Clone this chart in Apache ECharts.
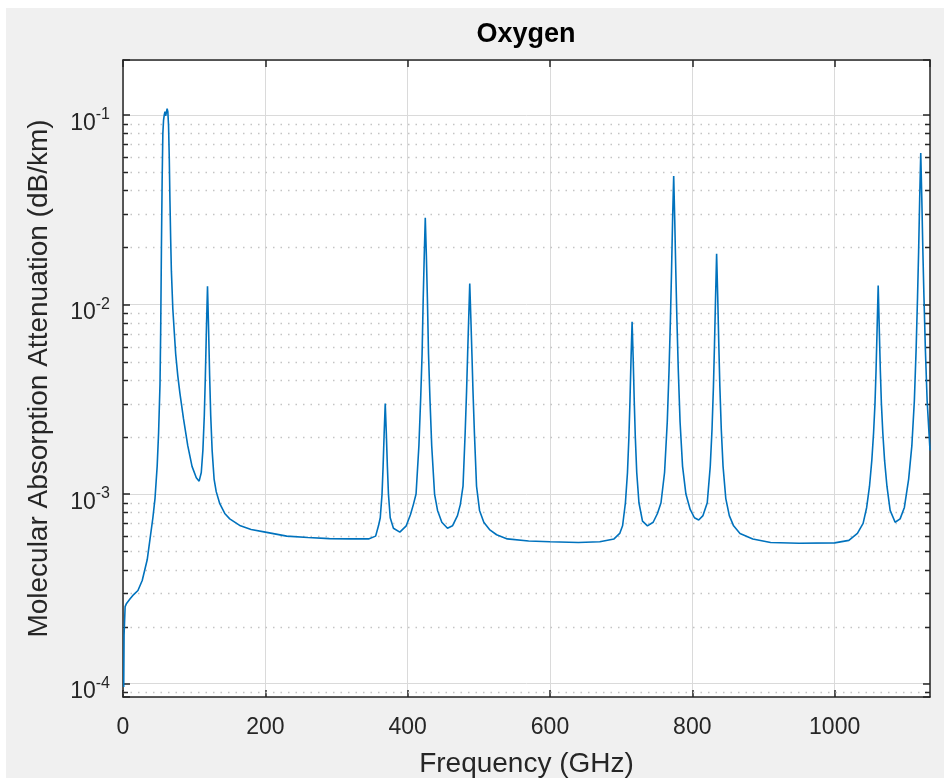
<!DOCTYPE html>
<html>
<head>
<meta charset="utf-8">
<title>Oxygen</title>
<script src="https://cdn.jsdelivr.net/npm/echarts@6/dist/echarts.min.js"></script>
<style>
  html, body { margin: 0; padding: 0; background: #fff; }
  #chart { position: absolute; left: 6px; top: 8px; width: 938px; height: 770px; }
</style>
</head>
<body>
<div id="chart"></div>
<script>
// frequency (GHz) and O2 attenuation (dB/km); one row per line group
const freqGHz = [
  1, 1.5, 3, 5, 10, 15, 21, 27, 34, 38, 42, 45, 48, 50, 52, 53, 54, 55, 56, 57, 58, 59, 60, 61, 62, 63, 64, 65, 66, 67, 68, 70, 72, 74, 77, 80, 85, 91, 97, 103, 107,
  110, 112.25, 114.25, 115.75, 117.25, 118.75, 120.25, 121.75, 123.25, 125.25, 128, 131, 136, 143, 150, 165, 180, 200, 230, 260, 290, 320, 345,
  355, 359, 361.5, 364, 365.5, 367, 368.5, 370, 371.5, 373, 375.5, 380, 389,
  398, 404, 408, 411.8, 415.8, 418.3, 420.3, 421.8, 423.3, 424.76, 426.3, 427.8, 429.3, 431.3, 433.8, 437.8, 442, 448, 456,
  463, 470, 474, 477.8, 480.8, 482.8, 484.3, 485.8, 487.25, 488.8, 490.3, 491.8, 493.8, 496.8, 501, 507, 515, 525, 540, 570, 600, 640, 670, 690,
  698, 702, 706, 708.9, 710.9, 712.4, 713.9, 715.39, 716.9, 718.4, 719.9, 721.9, 725, 730, 737, 745, 751,
  756, 761, 764.8, 767.3, 769.3, 770.8, 772.3, 773.84, 775.3, 776.8, 778.3, 780.3, 782.8, 786.3, 791, 797, 803, 809, 815,
  821, 825.2, 827.7, 829.7, 831.2, 832.7, 834.15, 835.7, 837.2, 838.7, 840.7, 843.2, 847, 852, 858, 867, 885, 910, 950, 1000, 1020, 1032,
  1040, 1045, 1049, 1052.2, 1054.7, 1056.7, 1058.2, 1059.7, 1061.2, 1062.7, 1064.2, 1065.7, 1067.7, 1070.2, 1073.5, 1078, 1085, 1092, 1098,
  1104, 1108.5, 1112, 1114.5, 1116.5, 1118, 1119.5, 1121, 1122.5, 1124, 1125.5, 1127.5, 1130, 1134
];
const attenDbKm = [
  9.6e-5, 1.8e-4, 2.55e-4, 2.65e-4, 2.8e-4, 2.95e-4, 3.1e-4, 3.5e-4, 4.5e-4, 5.8e-4, 7.5e-4, 9.5e-4, 1.4e-3, 2.1e-3, 3.8e-3, 7.5e-3, 0.02, 0.045, 0.08, 0.094, 0.1, 0.104, 0.099, 0.097, 0.108, 0.104, 0.088, 0.06, 0.035, 0.022, 0.015, 0.0095, 0.0072, 0.0055, 0.0042, 0.0034, 0.0025, 0.0018, 0.0014, 0.00122, 0.00117,
  0.0013, 0.0017, 0.0026, 0.0042, 0.0075, 0.0125, 0.0075, 0.0042, 0.0026, 0.0017, 0.0012, 0.00103, 0.00089, 0.00079, 0.00074, 0.00068, 0.00065, 0.00063, 0.0006, 0.00059, 0.000582, 0.00058, 0.00058,
  0.0006, 0.00068, 0.00075, 0.001, 0.0014, 0.0021, 0.003, 0.0021, 0.0014, 0.001, 0.00075, 0.00066, 0.00063,
  0.00068, 0.00078, 0.00088, 0.001, 0.0018, 0.0032, 0.0055, 0.0105, 0.018, 0.0287, 0.018, 0.0105, 0.0055, 0.0032, 0.0018, 0.001, 0.00082, 0.00071, 0.00066,
  0.00068, 0.00077, 0.00088, 0.0011, 0.0021, 0.0035, 0.0055, 0.0085, 0.0129, 0.0085, 0.0055, 0.0035, 0.0021, 0.0011, 0.00082, 0.00071, 0.00065, 0.00061, 0.00058, 0.000565, 0.00056, 0.000555, 0.00056, 0.00058,
  0.00062, 0.00068, 0.0009, 0.0013, 0.002, 0.0031, 0.0052, 0.0081, 0.0052, 0.0031, 0.002, 0.0013, 0.0009, 0.00072, 0.00068, 0.00071, 0.00079,
  0.0009, 0.0013, 0.0024, 0.0045, 0.0085, 0.015, 0.028, 0.0477, 0.028, 0.015, 0.0085, 0.0045, 0.0024, 0.0014, 0.001, 0.00083, 0.00075, 0.00073, 0.00077,
  0.0009, 0.0014, 0.0022, 0.0037, 0.0062, 0.011, 0.0185, 0.011, 0.0062, 0.0037, 0.0022, 0.0014, 0.00095, 0.00077, 0.00068, 0.00062, 0.00058, 0.000555, 0.00055, 0.000553, 0.00057, 0.00062,
  0.0007, 0.00085, 0.0011, 0.0015, 0.0021, 0.003, 0.0045, 0.0075, 0.0126, 0.0075, 0.0045, 0.003, 0.0021, 0.0015, 0.0011, 0.00082, 0.00071, 0.00074, 0.00085,
  0.0012, 0.0018, 0.0031, 0.0058, 0.011, 0.019, 0.036, 0.063, 0.036, 0.019, 0.011, 0.0058, 0.0031, 0.0017
];

const xTickLabels = [0, 200, 400, 600, 800, 1000];
const yDecades = [-4, -3, -2, -1];

const X_MIN = 0, X_MAX = 1134;
const Y_MIN = 8.5e-5, Y_MAX = 0.195;

// minor log grid: 2..9 x 10^n
const minorGrid = [];
for (let n = -5; n <= -1; n++) {
  for (let k = 2; k <= 9; k++) {
    const v = k * Math.pow(10, n);
    if (v > Y_MIN && v < Y_MAX) minorGrid.push(v);
  }
}

const FONT = 'Liberation Sans';
const INK = '#262626';

function decadeLabel(v) {
  const lg = Math.log10(v);
  const e = Math.round(lg);
  if (Math.abs(lg - e) > 1e-6 || yDecades.indexOf(e) < 0) return '';
  return '{b|10}{s|' + e + '}';
}

const chart = echarts.init(document.getElementById('chart'), null, { renderer: 'canvas' });

chart.setOption({
  animation: false,
  backgroundColor: '#f0f0f0',
  textStyle: { fontFamily: FONT },
  grid: {
    left: 117, top: 52, right: 14, bottom: 81,
    containLabel: false,
    outerBoundsMode: 'none',
    show: true, backgroundColor: '#fff', borderWidth: 0
  },
  graphic: [{
    type: 'text',
    x: 520, y: 27,
    style: {
      text: 'Oxygen',
      fill: '#000',
      font: 'bold 27px "Liberation Sans"',
      textAlign: 'center',
      textVerticalAlign: 'middle'
    }
  }],
  xAxis: [{
    type: 'value',
    min: X_MIN, max: X_MAX, interval: 200,
    name: 'Frequency (GHz)',
    nameLocation: 'middle',
    nameGap: 53,
    nameTextStyle: { fontSize: 28, color: INK, fontFamily: FONT },
    axisLine: { onZero: false, lineStyle: { color: INK, width: 1.5 } },
    axisTick: { inside: true, length: 7, lineStyle: { color: INK, width: 1.5 } },
    axisLabel: {
      margin: 19, fontSize: 23, color: INK, fontFamily: FONT,
      showMaxLabel: false,
      formatter: v => xTickLabels.indexOf(v) >= 0 ? String(v) : ''
    },
    splitLine: { show: true, lineStyle: { color: '#dadada', width: 1 } }
  }, {
    type: 'value',
    position: 'top',
    min: X_MIN, max: X_MAX, interval: 200,
    axisLine: { onZero: false, lineStyle: { color: INK, width: 1.5 } },
    axisTick: { inside: true, length: 7, lineStyle: { color: INK, width: 1.5 } },
    axisLabel: { show: false },
    splitLine: { show: false }
  }],
  yAxis: [{
    type: 'log',
    logBase: 10,
    min: Y_MIN, max: Y_MAX,
    name: 'Molecular Absorption Attenuation (dB/km)',
    nameLocation: 'middle',
    nameGap: 70,
    nameTextStyle: { fontSize: 28, color: INK, fontFamily: FONT },
    axisLine: { onZero: false, lineStyle: { color: INK, width: 1.5 } },
    axisTick: { inside: true, length: 7, lineStyle: { color: INK, width: 1.5 } },
    axisLabel: {
      margin: 13,
      padding: [12, 0, 0, 0],
      formatter: decadeLabel,
      rich: {
        b: { fontSize: 23, color: INK, fontFamily: FONT, lineHeight: 28, verticalAlign: 'bottom' },
        s: { fontSize: 16, color: INK, fontFamily: FONT, lineHeight: 14, verticalAlign: 'top' }
      }
    },
    splitLine: { show: true, lineStyle: { color: '#dadada', width: 1 } }
  }, {
    type: 'log',
    logBase: 10,
    position: 'right',
    min: Y_MIN, max: Y_MAX,
    axisLine: { onZero: false, lineStyle: { color: INK, width: 1.5 } },
    axisTick: { inside: true, length: 7, lineStyle: { color: INK, width: 1.5 } },
    axisLabel: { show: false },
    splitLine: { show: false }
  }],
  series: [{
    // dotted minor grid and minor ticks on left/right edges
    type: 'custom',
    silent: true,
    xAxisIndex: 0, yAxisIndex: 0,
    z: 1,
    data: minorGrid.map(v => [X_MIN, v]),
    renderItem: (params, api) => {
      const cs = params.coordSys;
      const y = Math.round(api.coord([api.value(0), api.value(1)])[1]) + 0.5;
      return {
        type: 'group',
        children: [
          { type: 'line', shape: { x1: cs.x, y1: y, x2: cs.x + cs.width, y2: y },
            style: { stroke: '#c4c4c4', lineWidth: 1.5, lineDash: [1.5, 6] } },
          { type: 'line', shape: { x1: cs.x, y1: y, x2: cs.x + 5, y2: y },
            style: { stroke: INK, lineWidth: 1.5 } },
          { type: 'line', shape: { x1: cs.x + cs.width - 5, y1: y, x2: cs.x + cs.width, y2: y },
            style: { stroke: INK, lineWidth: 1.5 } }
        ]
      };
    }
  }, {
    type: 'line',
    xAxisIndex: 0, yAxisIndex: 0,
    z: 3,
    showSymbol: false,
    data: freqGHz.map((f, i) => [f, attenDbKm[i]]),
    lineStyle: { color: '#0072BD', width: 1.6 }
  }]
});
</script>
</body>
</html>
